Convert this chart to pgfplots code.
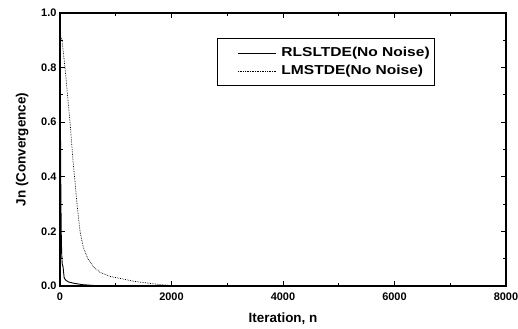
\documentclass[border=0pt]{standalone}
\usepackage{fontspec}
\setmainfont{Liberation Sans}
\newfontfamily\legfont[FakeStretch=1.2]{Liberation Sans}
\usepackage{pgfplots}
\pgfplotsset{compat=1.18}
\begin{document}
\begin{tikzpicture}
\useasboundingbox (-60bp,-43bp) rectangle (458bp,286bp);
\begin{axis}[
  at={(0,0)}, anchor=south west,
  scale only axis, width=446bp, height=273bp,
  xmin=0, xmax=8000, ymin=0, ymax=1.0,
  xtick={0,2000,4000,6000,8000},
  minor xtick={1000,3000,5000,7000},
  ytick={0,0.2,0.4,0.6,0.8,1.0},
  minor ytick={0.1,0.3,0.5,0.7,0.9},
  tick align=inside,
  major tick length=5bp, minor tick length=3bp,
  every tick/.style={black, line width=1pt},
  axis line style={line width=1.6pt},
  yticklabel style={/pgf/number format/fixed, /pgf/number format/fixed zerofill, /pgf/number format/precision=1, xshift=0bp},
  scaled x ticks=false,
  xticklabel style={/pgf/number format/1000 sep={}, yshift=-3bp},
  /pgf/number format/assume math mode=true,
  ticklabel style={font=\bfseries\fontsize{11}{12}\selectfont},
  xlabel={Iteration, n},
  ylabel={Jn (Convergence)},
  label style={font=\bfseries\fontsize{13.5}{15}\selectfont},
  xlabel style={yshift=-6bp},
  ylabel style={yshift=6bp},
  legend style={at={(157bp,248bp)}, anchor=north west, draw=black, line width=1.2pt,
    font=\legfont\bfseries\fontsize{13}{15}\selectfont, inner xsep=3bp, inner ysep=7bp,
    row sep=3bp},
  legend cell align=left,
  legend image code/.code={\path (0bp,0bp) (58bp,0bp); \draw[#1, line width=0.6pt] (17bp,0bp) -- (55bp,0bp);},
]
\addplot[black, line width=0.9pt] coordinates {
 (0,0.9) (8,0.6) (15,0.35) (22,0.2) (30,0.12) (40,0.08) (55,0.07) (65,0.05)
 (75,0.03) (100,0.022) (150,0.015) (250,0.01) (400,0.005) (600,0.002)
 (1000,0.001) (2000,0.0005) (8000,0)};
\addlegendentry{RLSLTDE(No Noise)}
\addplot[black, line width=0.7pt, densely dotted] coordinates {
 (0,0.92) (20,0.91) (36,0.9) (90,0.8) (180,0.6) (233,0.46) (270,0.38) (310,0.29)
 (359,0.2) (420,0.14) (500,0.1) (600,0.07) (717,0.05) (900,0.035) (1076,0.028)
 (1300,0.018) (1600,0.01) (1800,0.005) (2000,0.002) (2500,0.001) (8000,0)};
\addlegendentry{LMSTDE(No Noise)}
\end{axis}
\end{tikzpicture}
\end{document}
